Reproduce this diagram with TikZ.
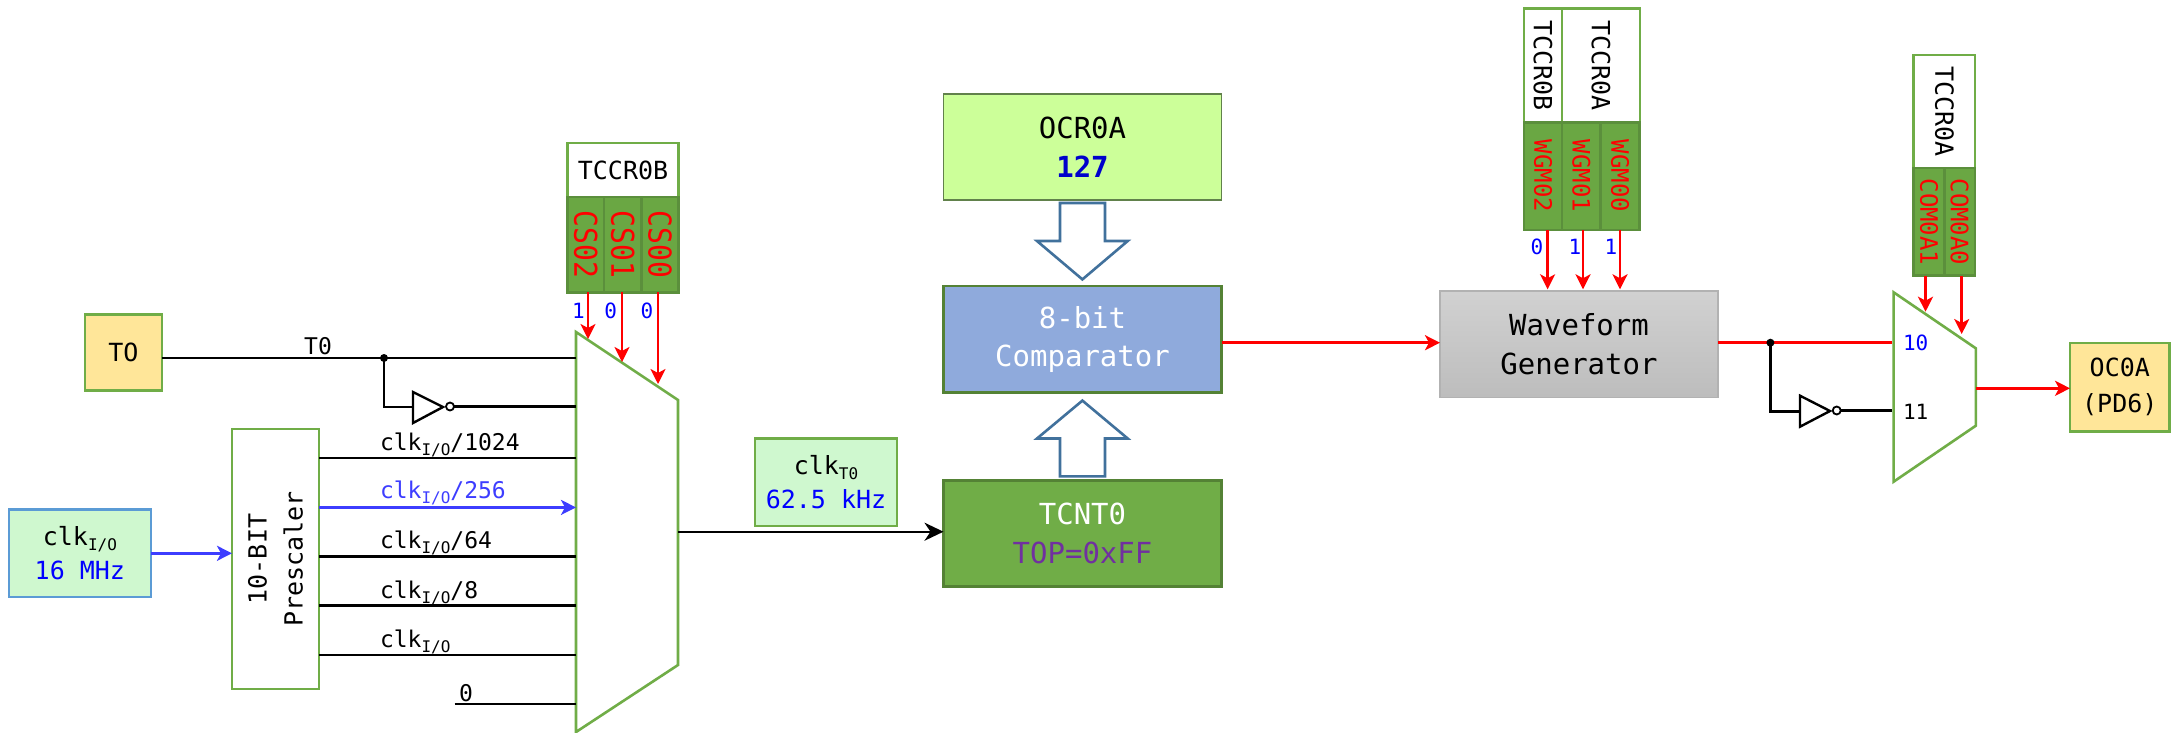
\documentclass[tikz,border=0pt]{standalone}
\usepackage{fontspec}
\setmainfont{DejaVu Sans Mono}
\usetikzlibrary{arrows.meta,calc}
\definecolor{gborder}{HTML}{70AD47}
\definecolor{dgreen}{HTML}{548235}
\definecolor{cellgreen}{HTML}{6AA743}
\definecolor{cellborder}{HTML}{5B8F3C}
\definecolor{mint}{HTML}{CFF8CF}
\definecolor{lime}{HTML}{CCFF99}
\definecolor{sand}{HTML}{FFE699}
\definecolor{wire}{HTML}{3D3DFF}
\definecolor{steel}{HTML}{41719C}
\definecolor{navy}{HTML}{0000CC}
\definecolor{purp}{HTML}{7030A0}
\definecolor{cmpblue}{HTML}{8FAADC}
\definecolor{skyline}{HTML}{5B9BD5}
\newcommand{\fs}[1]{\fontsize{#1}{#1}\selectfont}
\newcommand{\clkio}{clk\raisebox{-5pt}{\fs{16}I/O}}
\newcommand{\tallcs}[1]{\scalebox{1}[1.12]{#1}}
\tikzset{
  x=1pt,y=-1pt,
  box/.style={draw=gborder,line width=2.8pt,inner sep=0pt,outer sep=0pt,align=center,fill=white,font=\fontsize{25}{36}\selectfont},
  bigbox/.style={box,font=\fontsize{29}{38.5}\selectfont},
  cell/.style={box,draw=cellborder,fill=cellgreen,rotate=-90,text=red},
  hdr/.style={box,rotate=-90},
  lab/.style={inner sep=0pt,outer sep=0pt,font=\fs{23}},
  bit/.style={inner sep=0pt,outer sep=0pt,font=\fs{21},text=blue},
  bk/.style={line width=2.4pt,draw=black},
  bkarrow/.style={bk,-{Stealth[length=19pt,width=18pt,inset=6pt]}},
  blarrow/.style={line width=2.6pt,draw=wire,-{Stealth[length=15pt,width=15pt,inset=4pt]}},
  rdwire/.style={line width=2.6pt,draw=red},
  rdarrow/.style={rdwire,-{Stealth[length=15pt,width=15pt,inset=4pt]}},
  mux/.style={draw=gborder,line width=2.6pt,fill=white,line join=miter},
  block/.style={draw=steel,line width=2.6pt,fill=white,line join=miter},
  dot/.style={circle,fill=black,inner sep=0pt,minimum size=8pt,outer sep=0pt},
  bubble/.style={circle,draw=black,line width=1.8pt,fill=white,inner sep=0pt,minimum size=8pt,outer sep=0pt},
  inv/.style={draw=black,line width=2.4pt,fill=white,line join=miter},
}
\begin{document}
\begin{tikzpicture}
\useasboundingbox[fill=white] (0,0) rectangle (2177,732);

% input multiplexer
\draw[mux] (576,332) -- (678,400) -- (678,665) -- (576,732) -- cycle;
\coordinate (muxT) at (576,358);
\coordinate (muxN) at (576,406.4);
\coordinate (muxA) at (576,458);
\coordinate (muxB) at (576,507.4);
\coordinate (muxC) at (576,556.5);
\coordinate (muxD) at (576,605.6);
\coordinate (muxE) at (576,654.8);
\coordinate (muxF) at (576,704);
\coordinate (muxOut) at (678,531.7);
\coordinate (sel2) at (588,339);
\coordinate (sel1) at (622,362);
\coordinate (sel0) at (658,384);
\coordinate (zero) at (454.5,704);

% TCCR0B stack
\node[box,minimum width=111,minimum height=54] (tb) at (623,170) {TCCR0B};
\node[cell,font=\fs{28},minimum width=95.4,minimum height=36.5] (cs2) at (585.7,244.7) {\tallcs{CS02}};
\node[cell,font=\fs{28},minimum width=95.4,minimum height=37.4] (cs1) at (622.7,244.7) {\tallcs{CS01}};
\node[cell,font=\fs{28},minimum width=95.4,minimum height=37.2] (cs0) at (660,244.7) {\tallcs{CS00}};
\draw[rdarrow] (sel2 |- cs2.east) -- (sel2);
\draw[rdarrow] (sel1 |- cs1.east) -- (sel1);
\draw[rdarrow] (sel0 |- cs0.east) -- (sel0);
\node[bit] (b2) at (578.5,311) {1};
\node[bit] (b1) at (610.6,311) {0};
\node[bit] (b0) at (647,311) {0};

% T0 source
\node[box,fill=sand,minimum width=77,minimum height=76] (to) at (123.5,352.6) {TO};
\coordinate (jt) at (384,358);
\draw[bk] (to.east |- muxT) -- (muxT);
\node[dot] (jtd) at (jt) {};
\node[lab] (tl) at (318,345.7) {T0};
\coordinate (invL) at (413,407);
\draw[bk] (jt) |- (invL);
\draw[inv] (413,392) -- (443,407) -- (413,423) -- cycle;
\node[bubble] (bb) at (450,406.5) {};
\draw[bk] (bb.east |- muxN) -- (muxN);

% prescaler
\node[box,rotate=90,minimum width=260,minimum height=87] (pre) at (275.5,559) {10-BIT\\Prescaler};
\node[box,draw=skyline,fill=mint,minimum width=142,minimum height=87.4,font=\fontsize{25}{33.5}\selectfont] (clk) at (79.9,553.3) {\clkio\\\textcolor{blue}{16 MHz}};
\draw[blarrow] (clk.east) -- (pre.north |- clk.east);
\draw[bk] (pre.south |- muxA) -- (muxA);
\draw[blarrow] (pre.south |- muxB) -- (muxB);
\draw[bk] (pre.south |- muxC) -- (muxC);
\draw[bk] (pre.south |- muxD) -- (muxD);
\draw[bk] (pre.south |- muxE) -- (muxE);
\draw[bk] (zero) -- (muxF);
\node[lab,anchor=base west] (la) at (380,450) {\clkio/1024};
\node[lab,anchor=base west,text=wire] (lb) at (380,498.5) {\clkio/256};
\node[lab,anchor=base west] (lc) at (380,548) {\clkio/64};
\node[lab,anchor=base west] (ld) at (380,598) {\clkio/8};
\node[lab,anchor=base west] (le) at (380,647) {\clkio};
\node[lab] (lz) at (466,693) {0};

% centre column
\node[box,draw=dgreen!70!gray,line width=1.2pt,fill=lime,minimum width=278,minimum height=106,font=\fontsize{29}{38.5}\selectfont] (ocr) at (1082.5,147) {OCR0A\\\textcolor{navy}{\textbf{127}}};
\node[bigbox,draw=dgreen,fill=cmpblue,text=white,minimum width=278,minimum height=106.7] (cmp) at (1082.5,339.3) {8-bit\\Comparator};
\node[bigbox,draw=dgreen,fill=gborder,text=white,minimum width=278,minimum height=106] (tc) at (1082.5,533.5) {TCNT0\\\textcolor{purp}{TOP=0xFF}};
\draw[block] (1060,203) -- (1105,203) -- (1105,241) -- (1127.7,241) -- (1082.4,279.4) -- (1037,241) -- (1060,241) -- cycle;
\draw[block] (1060,476.3) -- (1105,476.3) -- (1105,438.5) -- (1127.7,438.5) -- (1082.4,400.6) -- (1037,438.5) -- (1060,438.5) -- cycle;
\node[box,fill=mint,minimum width=142,minimum height=87.5,font=\fontsize{25}{34}\selectfont] (ct) at (826,482.3) {clk\raisebox{-5pt}{\fs{16}T0}\\\textcolor{blue}{62.5 kHz}};
\draw[bkarrow] (muxOut) -- (tc.west |- muxOut);

% waveform generator
\node[box,draw=black!30,line width=1.4pt,top color=black!18,bottom color=black!26,minimum width=278,minimum height=106.3,font=\fontsize{29}{38.5}\selectfont] (wg) at (1579,344.2) {Waveform\\Generator};
\coordinate (cw) at (1300,342.7);
\draw[rdarrow] (cmp.east |- cw) -- (wg.west |- cw);
\node[hdr,minimum width=114,minimum height=38] (h1) at (1543,65.3) {TCCR0B};
\node[hdr,minimum width=114,minimum height=78] (h2) at (1601,65.3) {TCCR0A};
\node[cell,font=\fs{24},minimum width=107.7,minimum height=38] (w2) at (1543,176.1) {WGM02};
\node[cell,font=\fs{24},minimum width=107.7,minimum height=38.7] (w1) at (1581.4,176.1) {WGM01};
\node[cell,font=\fs{24},minimum width=107.7,minimum height=39.1] (w0) at (1620.2,176.1) {WGM00};
\coordinate (wt2) at (1547.6,289.3);
\coordinate (wt1) at (1583,289.3);
\coordinate (wt0) at (1620,289.3);
\draw[rdarrow] (wt2 |- w2.east) -- (wt2);
\draw[rdarrow] (wt1 |- w1.east) -- (wt1);
\draw[rdarrow] (wt0 |- w0.east) -- (wt0);
\node[bit] (wb2) at (1537,246.7) {0};
\node[bit] (wb1) at (1575,246.7) {1};
\node[bit] (wb0) at (1611,246.7) {1};

% output multiplexer
\draw[mux] (1893.6,292.3) -- (1975.8,348.3) -- (1975.8,425.7) -- (1893.6,481.7) -- cycle;
\coordinate (m10) at (1892,342.7);
\coordinate (m11) at (1892,410.3);
\coordinate (mOut) at (1975.8,388.3);
\coordinate (st1) at (1925.5,311.7);
\coordinate (st0) at (1961.7,334);
\node[hdr,minimum width=113,minimum height=61.2] (h3) at (1944.4,111.5) {TCCR0A};
\node[cell,font=\fs{24},minimum width=107.7,minimum height=30.6] (c1) at (1929.1,221.9) {COM0A1};
\node[cell,font=\fs{24},minimum width=107.7,minimum height=30.6] (c0) at (1959.7,221.9) {COM0A0};
\draw[rdarrow] (st1 |- c1.east) -- (st1);
\draw[rdarrow] (st0 |- c0.east) -- (st0);
\coordinate (jw) at (1770.4,342.7);
\coordinate (invW) at (1800,411.3);
\draw[rdwire] (wg.east |- m10) -- (m10);
\draw[line width=2.4pt] (jw) |- (invW);
\node[dot] (jwd) at (jw) {};
\draw[inv] (1800,395.7) -- (1830,411) -- (1800,426.7) -- cycle;
\node[bubble] (bw) at (1836.7,410.5) {};
\draw[bk] (bw.east |- m11) -- (m11);
\node[bit,font=\fs{21}] (n10) at (1915.7,343.3) {10};
\node[lab,font=\fs{21}] (n11) at (1915.7,412.3) {11};
\node[box,fill=sand,minimum width=99.5,minimum height=88.7] (oc) at (2119.8,387.3) {OC0A\\(PD6)};
\draw[rdarrow] (mOut) -- (oc.west |- mOut);
\end{tikzpicture}
\end{document}
